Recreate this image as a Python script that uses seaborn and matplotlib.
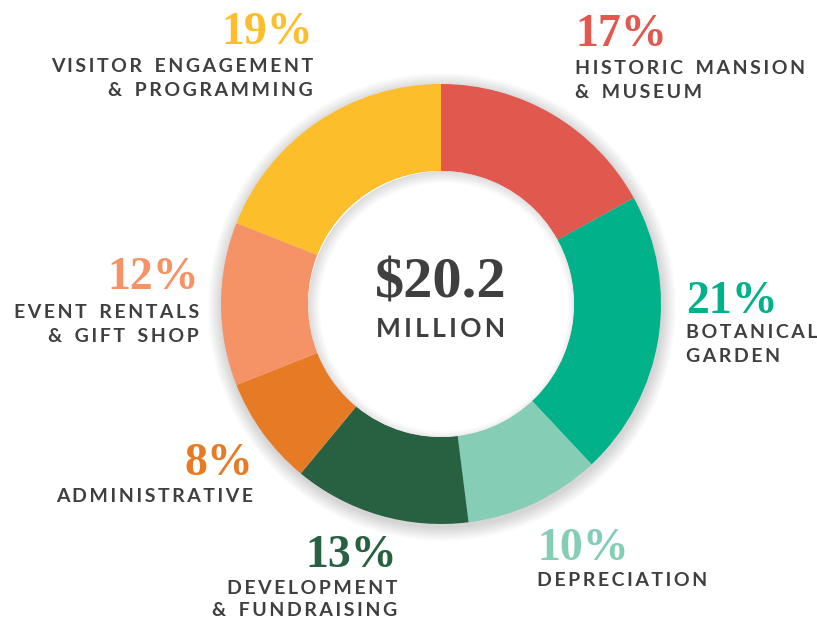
import matplotlib.pyplot as plt
import seaborn as sns
from matplotlib.patches import Circle, Wedge

# budget shares, clockwise from 12 o'clock
categories = ["HISTORIC MANSION\n& MUSEUM", "BOTANICAL\nGARDEN", "DEPRECIATION",
              "DEVELOPMENT\n& FUNDRAISING", "ADMINISTRATIVE", "EVENT RENTALS\n& GIFT SHOP",
              "VISITOR ENGAGEMENT\n& PROGRAMMING"]
shares = [17, 21, 10, 13, 8, 12, 19]
colors = ["#E1584F", "#00B189", "#85CDB4", "#286142", "#E77B25", "#F69366", "#FDBE2B"]
total_label = "$20.2"
total_unit = "MILLION"

sns.set_theme(style="white")
plt.rcParams['font.family'] = ['Lato', 'DejaVu Sans']

W, H = 817, 624
fig = plt.figure(figsize=(W / 100, H / 100), dpi=100)
ax = fig.add_axes([0, 0, 1, 1])

cx, cy = 441, H - 304
r_out, r_in = 220, 133


def Y(py):
    return H - py


def spaced(s):
    return "\n".join("\u2009".join(w.replace(" ", "\u2009\u2009")) for w in s.split("\n"))


# soft drop shadow around the ring
for k in range(14):
    ax.add_patch(Circle((cx + 1, cy - 3), r_out + 14 - k, color="#000000", alpha=0.012, lw=0, zorder=1))

ax.pie(shares, colors=colors, startangle=90, counterclock=False, center=(cx, cy),
       radius=r_out, wedgeprops=dict(width=r_out - r_in, linewidth=0, zorder=2))

# inner shadow in the hole
hole = Circle((cx, cy), r_in, color="white", lw=0, zorder=3)
ax.add_patch(hole)
for k in range(12):
    ring = Wedge((cx + 3, cy - 3), r_in + 3, 0, 360, width=k + 1, color="#000000", alpha=0.012, lw=0, zorder=4)
    ax.add_patch(ring)
    ring.set_clip_path(hole)

ax.set_xlim(0, W)
ax.set_ylim(0, H)
ax.set_aspect("equal")
ax.axis("off")

text_color = "#3F3F3F"
# (pct x, pct y, ha, label y of first line)
layout = [
    (575, 35, "left", 69),
    (686, 302, "left", 333),
    (537, 549, "left", 581),
    (397, 556, "right", 588),
    (253, 464, "right", 497),
    (199, 278, "right", 313),
    (313, 33, "right", 67),
]
for cat, val, col, (x, py, ha, ly) in zip(categories, shares, colors, layout):
    ax.text(x, Y(py), f"{val}%", color=col, ha=ha, va="center", fontsize=33,
            fontweight="bold", family=["Liberation Serif", "DejaVu Serif"])
    for i, line in enumerate(cat.split("\n")):
        ax.text(x, Y(ly + 23 * i), spaced(line), color=text_color, ha=ha, va="center",
                fontsize=14, fontweight="bold")

ax.text(cx, Y(283), total_label, color=text_color, ha="center", va="center", fontsize=42,
        fontweight="bold", family=["Liberation Serif", "DejaVu Serif"], zorder=5)
ax.text(cx, Y(329), spaced(total_unit), color=text_color, ha="center", va="center",
        fontsize=19, fontweight="bold", zorder=5)

fig.savefig("out.png", dpi=100, facecolor="white")
